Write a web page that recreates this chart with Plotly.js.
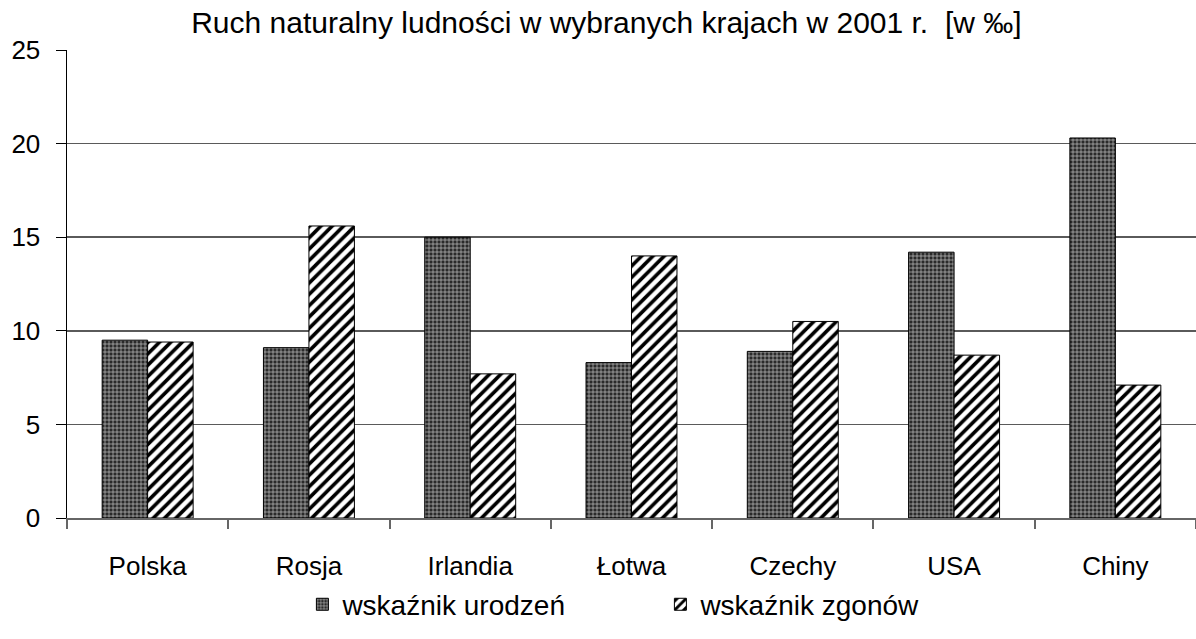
<!DOCTYPE html>
<html>
<head>
<meta charset="utf-8">
<script src="https://cdn.plot.ly/plotly-3.0.1.min.js"></script>
<style>html,body{margin:0;padding:0;background:#fff;}#chart{width:1196px;height:639px;}</style>
</head>
<body>
<div id="chart"></div>
<script>
const countries = ["Polska", "Rosja", "Irlandia", "Łotwa", "Czechy", "USA", "Chiny"];
const birthRate = [9.5, 9.1, 15.0, 8.3, 8.9, 14.2, 20.3];
const deathRate = [9.4, 15.6, 7.7, 14.0, 10.5, 8.7, 7.1];
const seriesNames = ["wskaźnik urodzeń", "wskaźnik zgonów"];
const yTicks = [0, 5, 10, 15, 20, 25];
const titleText = "Ruch naturalny ludności w wybranych krajach w 2001 r.  [w ‰]";

const font = "Liberation Sans, Arial, sans-serif";

const traces = [
  {
    type: "bar", name: seriesNames[0], x: countries, y: birthRate,
    marker: {
      color: "#2a2a2a",
      line: {color: "#000", width: 1},
      pattern: {shape: "+", fgcolor: "#c8c8c8", bgcolor: "#2a2a2a", size: 4, solidity: 0.3}
    },
    hoverinfo: "x+y"
  },
  {
    type: "bar", name: seriesNames[1], x: countries, y: deathRate,
    marker: {
      color: "#ffffff",
      line: {color: "#000", width: 1},
      pattern: {shape: "/", fgcolor: "#000", bgcolor: "#fff", size: 8, solidity: 0.45}
    },
    hoverinfo: "x+y"
  }
];

const layout = {
  width: 1196, height: 639,
  margin: {l: 67, r: 0, t: 50, b: 121, pad: 0},
  paper_bgcolor: "#fff", plot_bgcolor: "#fff",
  font: {family: font, size: 26, color: "#000"},
  title: {text: titleText, font: {family: font, size: 30, color: "#000"}, x: 0.507, xanchor: "center", y: 0.965, yanchor: "middle"},
  barmode: "group",
  bargap: 0.436, bargroupgap: 0,
  showlegend: true,
  legend: {orientation: "h", x: 0.2085, xanchor: "left", y: -0.185, yanchor: "middle",
           bgcolor: "rgba(0,0,0,0)",
           font: {family: font, size: 28, color: "#000"}, itemwidth: 30, tracegroupgap: 0,
           entrywidth: 313, entrywidthmode: "pixels"},
  xaxis: {
    type: "category", showgrid: false, zeroline: false,
    showline: true, linecolor: "#666", linewidth: 2,
    ticks: "outside", tickson: "boundaries", ticklen: 9, tickcolor: "#666", tickwidth: 2,
    tickfont: {family: font, size: 26, color: "#000"}, ticklabelstandoff: 24
  },
  yaxis: {
    range: [0, 25], tickvals: yTicks, ticktext: yTicks.map(String),
    showgrid: true, gridcolor: "#5a5a5a", gridwidth: 1.5,
    zeroline: false, showline: true, linecolor: "#000", linewidth: 1.5,
    ticks: "outside", ticklen: 10, tickcolor: "#000", tickwidth: 1,
    tickfont: {family: font, size: 26, color: "#000"}, ticklabelstandoff: 10
  }
};

Plotly.newPlot("chart", traces, layout, {displayModeBar: false, staticPlot: true});
</script>
</body>
</html>
